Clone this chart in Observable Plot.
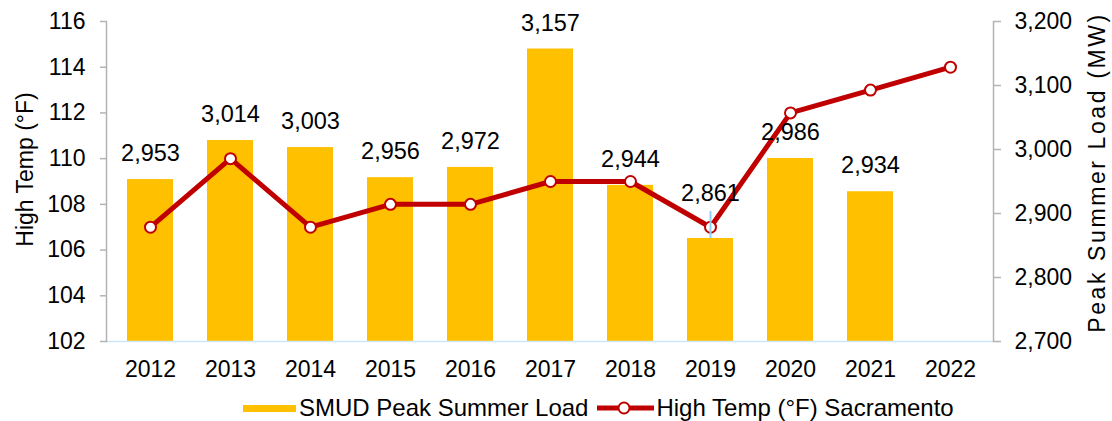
<!DOCTYPE html>
<html>
<head>
<meta charset="utf-8">
<script src="https://cdn.jsdelivr.net/npm/d3@7"></script>
<script src="https://cdn.jsdelivr.net/npm/@observablehq/plot@0.6"></script>
<style>
  html, body { margin: 0; padding: 0; background: #fff; }
  body { width: 1112px; height: 421px; position: relative; overflow: hidden;
         font-family: "Liberation Sans", Arial, sans-serif; color: #000; }
  #chart { position: absolute; left: 0; top: 0; }
  #legend { position: absolute; left: 243px; top: 393px; height: 30px; display: flex;
            align-items: center; font-size: 24px; white-space: nowrap; }
  .sw { width: 53px; height: 7px; background: #FFC000; margin-right: 3px; }
  .lg { margin-right: 9px; }
</style>
</head>
<body>
<div id="chart"></div>
<div id="legend">
  <div class="sw"></div><span class="lg">SMUD Peak Summer Load</span>
  <svg width="57" height="16" style="margin-right:2px"><line x1="0" x2="57" y1="8" y2="8" stroke="#C00000" stroke-width="5"/><circle cx="27" cy="8" r="5.5" fill="#fff" stroke="#C00000" stroke-width="2"/></svg>
  <span>High Temp (°F) Sacramento</span>
</div>
<script>
const years = ["2012","2013","2014","2015","2016","2017","2018","2019","2020","2021","2022"];
const peakLoadMW = [2953, 3014, 3003, 2956, 2972, 3157, 2944, 2861, 2986, 2934, null];
const highTempF = [107, 110, 107, 108, 108, 109, 109, 107, 112, 113, 114];
const tempTicks = [102, 104, 106, 108, 110, 112, 114, 116];
const loadTicks = [2700, 2800, 2900, 3000, 3100, 3200];
const tempDomain = [102, 116];
const loadDomain = [2700, 3200];

const rows = years.map((year, i) => ({year, load: peakLoadMW[i], temp: highTempF[i]}));
const loadRows = rows.filter(d => d.load != null);
const loadToT = d3.scaleLinear(loadDomain, tempDomain);
const tToLoad = d3.scaleLinear(tempDomain, loadDomain);
const fmt = d3.format(",");

// label placement tweak (Excel moved the 2019 label up with a leader line)
const liftedYear = "2019";
const leftTitle = "High Temp (°F)";
const rightTitle = "Peak Summer Load (MW)";

const chart = Plot.plot({
  width: 1112,
  height: 390,
  marginLeft: 106,
  marginRight: 119,
  marginTop: 21,
  marginBottom: 49,
  x: {type: "band", domain: years, paddingInner: 0.43, paddingOuter: 0.215},
  y: {domain: tempDomain},
  style: {fontFamily: "'Liberation Sans', Arial, sans-serif", fontSize: "23px", color: "#000", background: "#fff", overflow: "visible"},
  marks: [
    Plot.barY(loadRows, {x: "year", y1: tempDomain[0], y2: d => loadToT(d.load), fill: "#FFC000"}),
    Plot.ruleY([tempDomain[0]], {stroke: "#cde8f8", strokeWidth: 1.5}),
    Plot.frame({anchor: "left", stroke: "#b4b4b4", strokeWidth: 1.5}),
    Plot.frame({anchor: "right", stroke: "#b4b4b4", strokeWidth: 1.5}),
    Plot.axisY(tempTicks, {anchor: "left", tickSize: 6, tickPadding: 15, stroke: "#b4b4b4", strokeWidth: 1.5, label: null, fontSize: 23}),
    Plot.axisY(loadTicks.map(loadToT), {anchor: "right", tickSize: 7, tickPadding: 14, stroke: "#b4b4b4", strokeWidth: 1.5, label: null, fontSize: 23,
      tickFormat: t => fmt(Math.round(tToLoad(t)))}),
    Plot.axisX({tickSize: 0, tickPadding: 19, label: null, fontSize: 23}),
    Plot.line(rows, {x: "year", y: "temp", stroke: "#C00000", strokeWidth: 5}),
    Plot.dot(rows, {x: "year", y: "temp", r: 5.5, fill: "#fff", stroke: "#C00000", strokeWidth: 2}),
    Plot.ruleX(loadRows.filter(d => d.year === liftedYear), {x: "year", y1: d => loadToT(d.load), y2: d => loadToT(d.load) + 1.18, stroke: "#8ed1f2", strokeWidth: 2}),
    Plot.text(loadRows.filter(d => d.year !== liftedYear), {x: "year", y: d => loadToT(d.load), text: d => fmt(d.load), dy: -26, fontSize: 23.5}),
    Plot.text(loadRows.filter(d => d.year === liftedYear), {x: "year", y: d => loadToT(d.load), text: d => fmt(d.load), dy: -45, fontSize: 23.5}),
    Plot.text([leftTitle], {frameAnchor: "left", textAnchor: "middle", dx: -81, dy: -12, rotate: -90, fontSize: 23}),
    Plot.text([rightTitle], {frameAnchor: "right", textAnchor: "middle", dx: 104, dy: -9, rotate: -90, fontSize: 23})
  ]
});
d3.select(chart).selectAll("text").filter(function() { return this.textContent === rightTitle; })
  .attr("letter-spacing", "2.6px");
document.getElementById("chart").appendChild(chart);
</script>
</body>
</html>
